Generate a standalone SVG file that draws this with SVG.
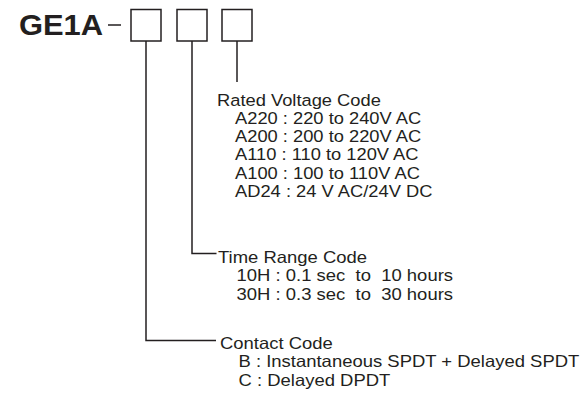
<svg xmlns="http://www.w3.org/2000/svg" width="582" height="397" viewBox="0 0 582 397">
<style>
.t{font-family:"Liberation Sans",Arial,sans-serif;font-size:16.5px;fill:#231f20;white-space:pre}
.h{font-family:"Liberation Sans",Arial,sans-serif;font-size:30px;font-weight:bold;fill:#231f20}
.box{fill:none;stroke:#231f20;stroke-width:1.5}
.ln{fill:none;stroke:#231f20;stroke-width:1.5}
</style>
<rect width="582" height="397" fill="#ffffff"/>
<g id="title">
<text class="h" transform="translate(19,35) scale(1.03,1)">GE1A</text>
<line class="ln" x1="108" y1="25" x2="121" y2="25" stroke-width="1.3"/>
</g>
<g id="box-contact"><rect class="box" x="131" y="9.5" width="30" height="31.5"/></g>
<g id="box-time"><rect class="box" x="177" y="9.5" width="30" height="31.5"/></g>
<g id="box-voltage"><rect class="box" x="222" y="9.5" width="30" height="31.5"/></g>
<g id="connectors">
<polyline class="ln" points="237,41 237,82"/>
<polyline class="ln" points="192,41 192,253.5 216.5,253.5"/>
<polyline class="ln" points="146,41 146,340.5 216,340.5"/>
</g>
<g id="voltage-code">
<text class="t" transform="translate(217,105.5) scale(1.11,1)">Rated Voltage Code</text>
<text class="t" transform="translate(235,123.8) scale(1.11,1)">A220 : 220 to 240V AC</text>
<text class="t" transform="translate(235,142.1) scale(1.11,1)">A200 : 200 to 220V AC</text>
<text class="t" transform="translate(235,160.4) scale(1.11,1)">A110 : 110 to 120V AC</text>
<text class="t" transform="translate(235,178.7) scale(1.11,1)">A100 : 100 to 110V AC</text>
<text class="t" transform="translate(235,197) scale(1.11,1)">AD24 : 24 V AC/24V DC</text>
</g>
<g id="time-range-code">
<text class="t" transform="translate(218,263) scale(1.12,1)">Time Range Code</text>
<text class="t" xml:space="preserve" transform="translate(236.5,281.3) scale(1.12,1)">10H : 0.1 sec  to  10 hours</text>
<text class="t" xml:space="preserve" transform="translate(236.5,299.6) scale(1.12,1)">30H : 0.3 sec  to  30 hours</text>
</g>
<g id="contact-code">
<text class="t" transform="translate(220,349) scale(1.12,1)">Contact Code</text>
<text class="t" transform="translate(238.5,367.3) scale(1.12,1)">B : Instantaneous SPDT + Delayed SPDT</text>
<text class="t" transform="translate(238.5,385.6) scale(1.12,1)">C : Delayed DPDT</text>
</g>
</svg>
